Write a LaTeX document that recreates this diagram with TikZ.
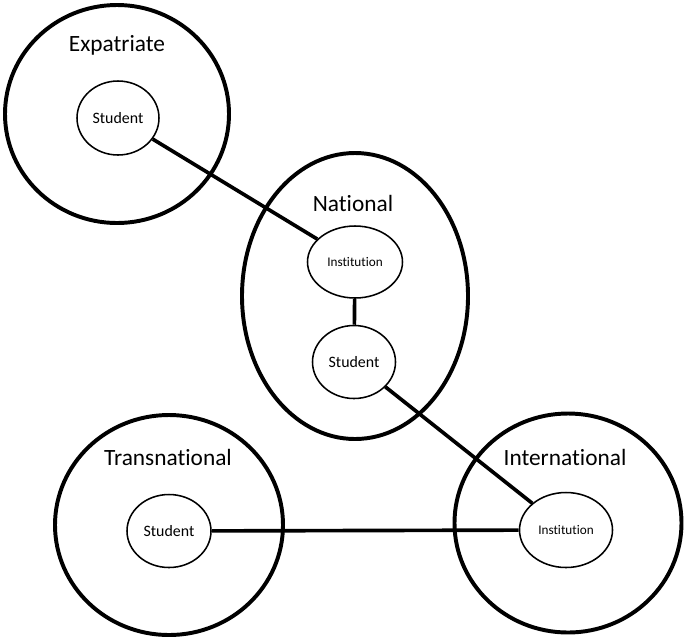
\documentclass[tikz,border=0pt]{standalone}
\usepackage{fontspec}
\setmainfont{Carlito}[Ligatures=NoCommon, RawFeature={-liga;-dlig;-clig}]
\usetikzlibrary{shapes.geometric,positioning}

\begin{document}
\begin{tikzpicture}[
    realm/.style={draw, ellipse, line width=2.8pt, inner sep=0pt},
    realmlabel/.style={font=\fontsize{16.6}{19}\selectfont},
    actor/.style={draw, ellipse, line width=1.1pt, inner sep=0pt, font=\fontsize{11.3}{13}\selectfont},
    link/.style={line width=2.6pt}
]
\useasboundingbox (0,0) rectangle (17.125,-15.95);

% outer realms
\node[realm, minimum width=5.6cm, minimum height=5.45cm] (expat) at (2.925,-2.85) {};
\node[realm, minimum width=5.65cm, minimum height=7.15cm] (nat) at (8.875,-7.4) {};
\node[realm, minimum width=5.7cm, minimum height=5.5cm] (trans) at (4.225,-13.125) {};
\node[realm, minimum width=5.675cm, minimum height=5.475cm] (intl) at (14.2,-13.075) {};

\node[realmlabel] (expatlbl) at (2.925,-1.125) {Expatriate};
\node[realmlabel] (natlbl) at (8.825,-5.075) {National};
\node[realmlabel] (translbl) at (4.2,-11.425) {Transnational};
\node[realmlabel] (intllbl) at (14.125,-11.425) {International};

% inner actors
\node[actor, minimum width=2.05cm, minimum height=1.85cm] (expatstu) at (2.95,-2.95) {Student};
\node[actor, minimum width=2.375cm, minimum height=1.8cm, font=\fontsize{9.4}{11}\selectfont] (natinst) at (8.875,-6.55) {Institution};
\node[actor, minimum width=2.075cm, minimum height=1.825cm] (natstu) at (8.85,-9.05) {Student};
\node[actor, minimum width=2.1cm, minimum height=1.825cm] (transstu) at (4.225,-13.275) {Student};
\node[actor, minimum width=2.325cm, minimum height=1.875cm, font=\fontsize{9.4}{11}\selectfont] (intlinst) at (14.15,-13.25) {Institution};

\draw[link] (expatstu) -- (natinst);
\draw[link] (natinst) -- (natstu);
\draw[link] (natstu) -- (intlinst);
\draw[link] (transstu) -- (intlinst);
\end{tikzpicture}
\end{document}
